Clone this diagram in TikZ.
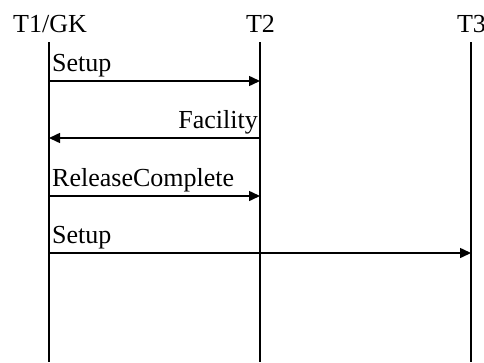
\documentclass[tikz,border=0pt]{standalone}
\usepackage{fontspec}
\setmainfont{Liberation Serif}
\usetikzlibrary{arrows.meta}
\begin{document}
\begin{tikzpicture}[x=1pt,y=-1pt,
  lifeline/.style={line width=1.8pt},
  msg/.style={line width=1.5pt,-{Triangle[length=11pt,width=10pt]}},
  title/.style={anchor=base,inner sep=0pt,font=\fontsize{26}{30}\selectfont},
  lbl/.style={inner sep=0pt,font=\fontsize{26}{30}\selectfont}]
\useasboundingbox[fill=white] (0,0) rectangle (484,362);
% titles
\node[title] (t1) at (50,32) {T1/GK};
\node[title] (t2) at (260.5,32) {T2};
\node[title] (t3) at (471.5,32) {T3};
% lifelines
\coordinate (l1t) at (49,42);  \coordinate (l1b) at (49,362);
\coordinate (l2t) at (260,42); \coordinate (l2b) at (260,362);
\coordinate (l3t) at (471,42); \coordinate (l3b) at (471,362);
\draw[lifeline] (l1t) -- (l1b);
\draw[lifeline] (l2t) -- (l2b);
\draw[lifeline] (l3t) -- (l3b);
% messages
\coordinate (m1a) at (49,81);  \coordinate (m1b) at (260,81);
\coordinate (m2a) at (260,138); \coordinate (m2b) at (49,138);
\coordinate (m3a) at (49,196); \coordinate (m3b) at (260,196);
\coordinate (m4a) at (49,253); \coordinate (m4b) at (471,253);
\draw[msg] (m1a) -- (m1b);
\draw[msg] (m2a) -- (m2b);
\draw[msg] (m3a) -- (m3b);
\draw[msg] (m4a) -- (m4b);
\node[lbl,anchor=base west] (n1) at (52,71) {Setup};
\node[lbl,anchor=base east] (n2) at (258,128) {Facility};
\node[lbl,anchor=base west] (n3) at (52,186) {ReleaseComplete};
\node[lbl,anchor=base west] (n4) at (52,243) {Setup};
\end{tikzpicture}
\end{document}
